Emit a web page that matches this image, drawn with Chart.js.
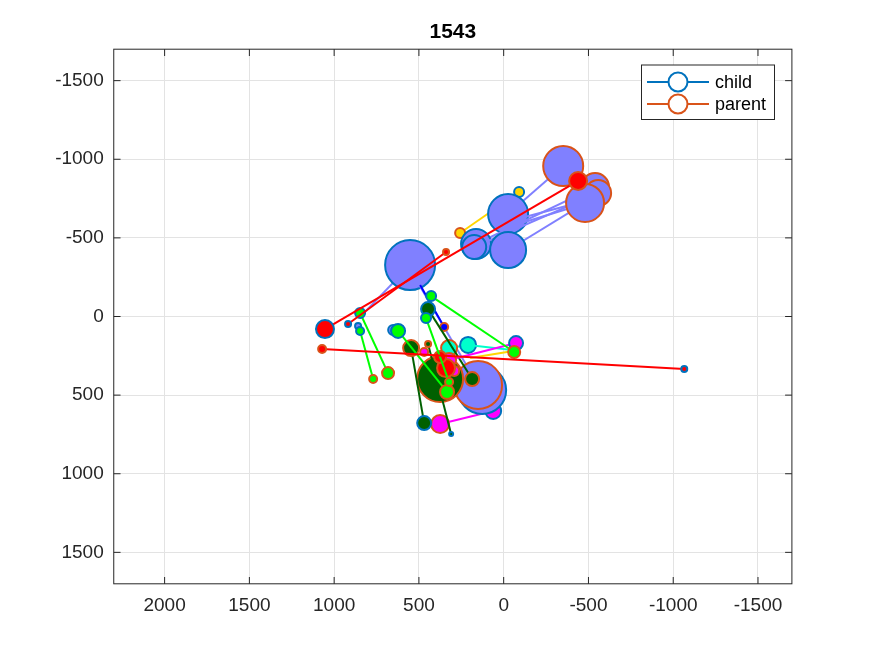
<!DOCTYPE html>
<html>
<head>
<meta charset="utf-8">
<title>1543</title>
<script src="https://cdn.jsdelivr.net/npm/chart.js@4.4.0/dist/chart.umd.min.js"></script>
<style>
    html, body { margin: 0; padding: 0; background: #fff; }
    #wrap { width: 875px; height: 656px; }
</style>
</head>
<body>
<div id="wrap"><canvas id="chart" width="875" height="656"></canvas></div>
<script>
/* 1543 — child / parent links */
/* global Chart */

// =========================================================
// Data
// =========================================================
var xTicks = [2000, 1500, 1000, 500, 0, -500, -1000, -1500];
var yTicks = [-1500, -1000, -500, 0, 500, 1000, 1500];

// one entry per link: child -> parent
var linkGroup = [
    'yellow', 'yellow', 'magenta',
    'lavender', 'lavender', 'lavender', 'lavender', 'lavender', 'lavender',
    'lavender', 'lavender', 'lavender', 'lavender', 'lavender',
    'blue', 'aqua', 'aqua',
    'darkgreen', 'darkgreen', 'darkgreen', 'darkgreen',
    'magenta', 'magenta', 'magenta', 'red', 'red',
    'green', 'green', 'green', 'green', 'green',
    'red', 'red', 'red'
];
var childX = [
    -91, 198, 62,
    127, 552, 505, 859, 652, -26,
    163, 174, -14, 0, -26,
    493, 210, 210,
    375, 446, 469, 310,
    -73, 292, 469, 340, 375,
    847, 847, 623, 458, 428,
    1054, 918, -1065
];
var childY = [
    -792, 264, 601,
    468, -327, -213, 61, 86, -652,
    -461, -442, -601, -560, -423,
    -200, 181, 181,
    398, -47, 678, 748,
    169, 347, 226, 328, 258,
    -22, 92, 92, 10, -130,
    80, 48, 334
];
var childSize = [
    5, 0, 8,
    24, 25, 0, 3, 5, 20,
    15, 12, 0, 0, 18,
    0, 8, 0,
    0, 7, 7, 2,
    7, 0, 0, 0, 0,
    5, 4, 7, 5, 5,
    9, 3, 3
];
var parentX = [
    257, -56, 375,
    127, 841, 151, 859, 652, -351,
    -539, -557, -480, -470, -480,
    351, 322, -50,
    375, 186, 546, 446,
    322, 292, 469, 340, 375,
    682, 770, 334, 322, -62,
    -439, 340, 1071
];
var parentY = [
    -531, 220, 684,
    468, -3, 436, 61, 86, -957,
    -823, -785, -735, -715, -722,
    67, 201, 213,
    398, 398, 201, 175,
    277, 347, 226, 328, 258,
    360, 398, 480, 417, 226,
    -862, -410, 207
];
var parentSize = [
    5, 0, 9,
    0, 0, 24, 0, 0, 20,
    14, 13, 0, 0, 19,
    4, 8, 0,
    23, 7, 8, 3,
    7, 5, 4, 9, 6,
    6, 4, 7, 4, 6,
    9, 3, 4
];

var palette = {
    yellow:    '#FFD500',
    magenta:   '#FF00FF',
    lavender:  '#8080FF',
    blue:      '#0000FF',
    aqua:      '#00FFCC',
    darkgreen: '#006000',
    red:       '#FF0000',
    green:     '#00FF00'
};

var CHILD_EDGE  = '#0072BD';
var PARENT_EDGE = '#D95319';
var AXIS_COLOR  = '#262626';
var FONT        = "'Liberation Sans', Arial, Helvetica, sans-serif";

(function () {
    'use strict';

    // =========================================================
    // Datasets — line, child, parent for every link
    // =========================================================
    function buildDatasets() {
        var sets = [];
        var n = 0;
        for (var i = 0; i < linkGroup.length; i++) {
            var col = palette[linkGroup[i]];
            var c = { x: childX[i], y: childY[i] };
            var p = { x: parentX[i], y: parentY[i] };

            sets.push({
                type: 'line',
                data: [c, p],
                borderColor: col,
                borderWidth: 2,
                pointRadius: 0,
                fill: false,
                order: -(n++)
            });
            sets.push({
                type: 'scatter',
                data: [c],
                pointRadius: childSize[i],
                backgroundColor: col,
                borderColor: CHILD_EDGE,
                borderWidth: 2,
                order: -(n++)
            });
            sets.push({
                type: 'scatter',
                data: [p],
                pointRadius: parentSize[i],
                backgroundColor: col,
                borderColor: PARENT_EDGE,
                borderWidth: 2,
                order: -(n++)
            });
        }
        return sets;
    }

    // =========================================================
    // Plugins — box, inner ticks, title, legend
    // =========================================================
    var framePlugin = {
        id: 'frame',
        afterDraw: function (chart) {
            var ctx = chart.ctx;
            var a = chart.chartArea;
            var sx = chart.scales.x, sy = chart.scales.y;
            var len = 6.8;

            ctx.save();
            ctx.strokeStyle = AXIS_COLOR;
            ctx.lineWidth = 1;
            ctx.strokeRect(a.left, a.top, a.right - a.left, a.bottom - a.top);

            ctx.beginPath();
            xTicks.forEach(function (v) {
                var px = sx.getPixelForValue(v);
                ctx.moveTo(px, a.bottom); ctx.lineTo(px, a.bottom - len);
                ctx.moveTo(px, a.top);    ctx.lineTo(px, a.top + len);
            });
            yTicks.forEach(function (v) {
                var py = sy.getPixelForValue(v);
                ctx.moveTo(a.left, py);  ctx.lineTo(a.left + len, py);
                ctx.moveTo(a.right, py); ctx.lineTo(a.right - len, py);
            });
            ctx.stroke();

            // title
            ctx.fillStyle = '#000';
            ctx.font = 'bold 21px ' + FONT;
            ctx.textAlign = 'center';
            ctx.textBaseline = 'middle';
            ctx.fillText('1543', (a.left + a.right) / 2, 32);

            // legend
            var bx = 641.5, by = 65, bw = 133, bh = 54.5;
            ctx.fillStyle = '#fff';
            ctx.fillRect(bx, by, bw, bh);
            ctx.strokeStyle = AXIS_COLOR;
            ctx.strokeRect(bx, by, bw, bh);

            var rows = [
                { label: 'child',  color: CHILD_EDGE,  y: 82 },
                { label: 'parent', color: PARENT_EDGE, y: 104 }
            ];
            rows.forEach(function (r) {
                ctx.strokeStyle = r.color;
                ctx.lineWidth = 2;
                ctx.beginPath();
                ctx.moveTo(647, r.y); ctx.lineTo(709, r.y);
                ctx.stroke();
                ctx.beginPath();
                ctx.arc(678, r.y, 9.5, 0, Math.PI * 2);
                ctx.fillStyle = '#fff';
                ctx.fill();
                ctx.stroke();

                ctx.fillStyle = '#000';
                ctx.font = '18px ' + FONT;
                ctx.textAlign = 'left';
                ctx.fillText(r.label, 715, r.y + 1);
            });
            ctx.restore();
        }
    };

    // =========================================================
    // Chart
    // =========================================================
    function initChart() {
        var el = document.getElementById('chart');

        new Chart(el, {
            type: 'scatter',
            data: { datasets: buildDatasets() },
            options: {
                responsive: false,
                animation: false,
                events: [],
                layout: { padding: { left: 0, top: 49.2, right: 83.1, bottom: 0 } },
                plugins: {
                    legend: { display: false },
                    tooltip: { enabled: false },
                    title: { display: false }
                },
                scales: {
                    x: {
                        type: 'linear',
                        min: -1700,
                        max: 2300,
                        reverse: true,
                        border: { display: false },
                        grid: { color: '#e3e3e3', drawTicks: false, lineWidth: 1 },
                        afterBuildTicks: function (s) {
                            s.ticks = xTicks.map(function (v) { return { value: v }; });
                        },
                        afterFit: function (s) { s.height = 72.2; },
                        ticks: {
                            color: AXIS_COLOR,
                            font: { family: FONT, size: 19 },
                            padding: 11,
                            maxRotation: 0,
                            autoSkip: false,
                            callback: function (v) { return String(v); }
                        }
                    },
                    y: {
                        type: 'linear',
                        min: -1700,
                        max: 1700,
                        reverse: true,
                        border: { display: false },
                        grid: { color: '#e3e3e3', drawTicks: false, lineWidth: 1 },
                        afterBuildTicks: function (s) {
                            s.ticks = yTicks.map(function (v) { return { value: v }; });
                        },
                        afterFit: function (s) { s.width = 113.75; },
                        ticks: {
                            color: AXIS_COLOR,
                            font: { family: FONT, size: 19 },
                            padding: 10,
                            autoSkip: false,
                            callback: function (v) { return String(v); }
                        }
                    }
                }
            },
            plugins: [framePlugin]
        });
    }

    initChart();
}());
</script>
</body>
</html>
